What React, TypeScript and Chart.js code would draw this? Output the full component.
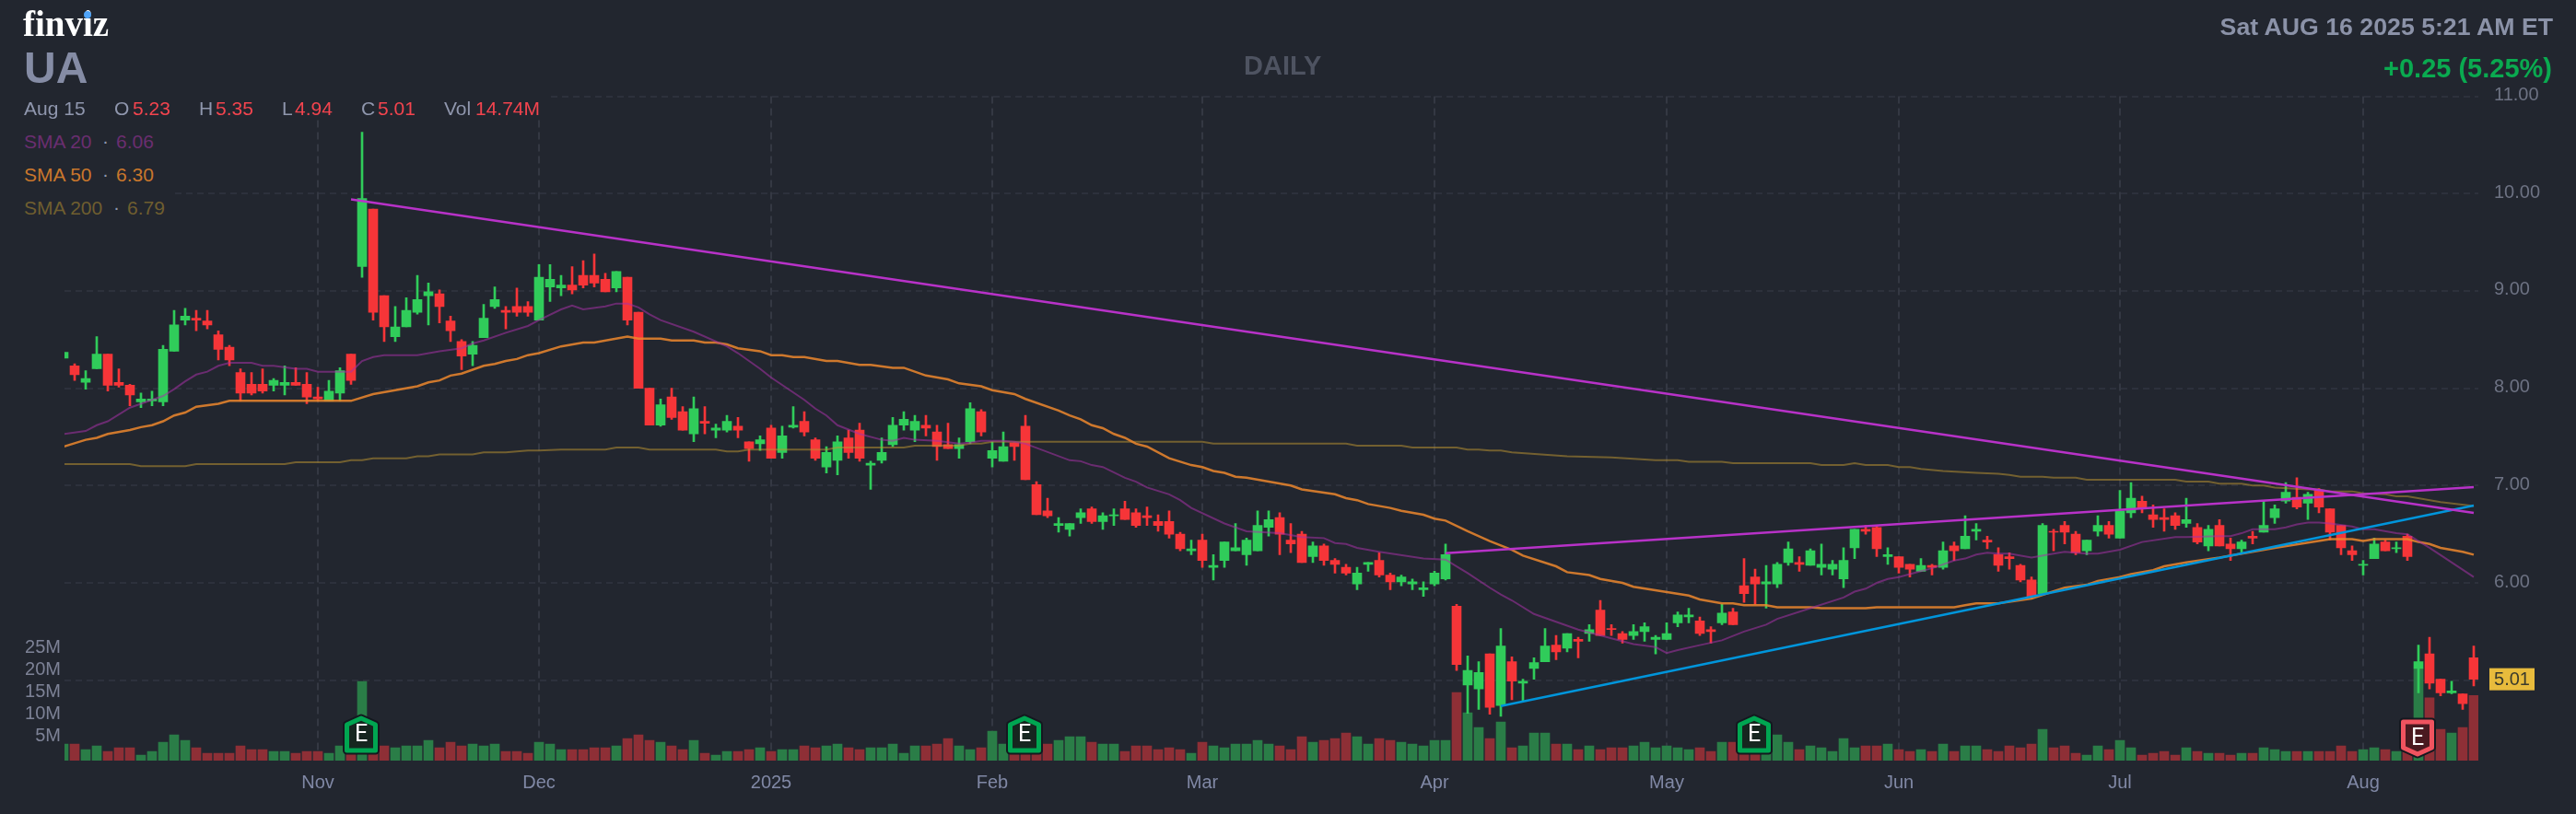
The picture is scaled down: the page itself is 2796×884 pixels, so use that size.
import { useEffect, useRef } from 'react';
import { Chart, registerables } from 'chart.js';

Chart.register(...registerables);

const opens = [
  8.31,8.23,8.06,8.20,8.35,8.06,8.03,7.86,7.87,7.86,
  8.38,8.70,8.72,8.69,8.55,8.42,8.16,8.04,8.04,8.03,
  8.03,8.06,8.04,7.91,7.87,7.95,8.35,9.25,9.84,8.95,
  8.53,8.63,8.78,8.95,8.97,8.69,8.48,8.35,8.52,8.84,
  8.80,8.84,8.84,8.70,9.04,9.03,9.06,9.16,9.16,9.12,
  9.03,9.14,8.78,8.00,7.62,7.91,7.76,7.53,7.66,7.57,
  7.57,7.61,7.45,7.43,7.59,7.34,7.60,7.66,7.47,7.19,
  7.26,7.49,7.57,7.21,7.26,7.42,7.62,7.57,7.62,7.55,
  7.42,7.38,7.45,7.76,7.28,7.25,7.44,7.61,7.01,6.74,
  6.59,6.55,6.67,6.76,6.63,6.69,6.76,6.72,6.69,6.63,
  6.63,6.50,6.33,6.44,6.16,6.23,6.33,6.29,6.33,6.57,
  6.67,6.44,6.50,6.27,6.38,6.23,6.16,5.99,6.19,6.23,
  6.08,6.01,5.99,5.93,5.99,6.04,5.76,4.95,4.91,5.27,
  4.74,5.19,4.97,5.12,5.19,5.36,5.33,5.42,5.48,5.72,
  5.53,5.48,5.46,5.50,5.42,5.42,5.59,5.65,5.61,5.52,
  5.59,5.70,5.97,6.06,5.99,5.99,6.21,6.21,6.18,6.16,
  6.14,6.04,6.36,6.55,6.57,6.27,6.27,6.19,6.12,6.18,
  6.16,6.38,6.35,6.53,6.44,6.29,6.27,6.18,6.03,5.89,
  6.53,6.59,6.50,6.33,6.53,6.59,6.46,6.72,6.84,6.70,
  6.67,6.69,6.61,6.57,6.38,6.59,6.40,6.35,6.48,6.52,
  6.67,6.84,6.88,6.82,6.95,6.76,6.59,6.33,6.18,6.25,
  6.42,6.35,6.48,5.12,5.27,5.01,4.87,4.86,5.23,
];
const highs = [
  8.37,8.25,8.18,8.53,8.35,8.20,8.04,7.95,7.97,8.44,
  8.80,8.82,8.80,8.80,8.59,8.44,8.20,8.16,8.20,8.10,
  8.23,8.21,8.16,8.01,8.08,8.21,8.35,10.63,9.84,8.95,
  8.84,8.93,9.16,9.08,9.01,8.74,8.50,8.48,8.86,9.04,
  8.84,9.03,8.89,9.27,9.27,9.16,9.25,9.31,9.38,9.18,
  9.20,9.14,8.78,8.00,7.89,8.00,7.81,7.91,7.81,7.63,
  7.72,7.70,7.45,7.51,7.62,7.61,7.81,7.76,7.49,7.40,
  7.51,7.57,7.64,7.25,7.49,7.70,7.76,7.72,7.72,7.62,
  7.64,7.49,7.85,7.78,7.45,7.55,7.44,7.72,7.04,6.87,
  6.67,6.61,6.76,6.78,6.72,6.76,6.84,6.76,6.78,6.70,
  6.74,6.52,6.44,6.50,6.29,6.42,6.61,6.46,6.74,6.74,
  6.72,6.61,6.53,6.42,6.40,6.25,6.19,6.16,6.21,6.31,
  6.10,6.08,6.04,6.01,6.12,6.40,5.78,5.25,5.19,5.27,
  5.53,5.24,5.01,5.23,5.53,5.46,5.48,5.44,5.57,5.82,
  5.57,5.50,5.57,5.59,5.46,5.59,5.70,5.74,5.65,5.55,
  5.78,5.74,6.25,6.14,6.18,6.21,6.42,6.27,6.35,6.40,
  6.23,6.36,6.55,6.59,6.59,6.36,6.27,6.19,6.25,6.19,
  6.42,6.42,6.69,6.61,6.48,6.36,6.31,6.19,6.06,6.61,
  6.55,6.63,6.53,6.44,6.69,6.63,6.95,7.03,6.89,6.80,
  6.76,6.72,6.87,6.61,6.59,6.65,6.46,6.44,6.53,6.84,
  6.80,7.03,7.08,6.93,6.97,6.76,6.59,6.38,6.23,6.46,
  6.44,6.42,6.50,5.36,5.44,5.01,4.99,4.86,5.35,
];
const lows = [
  8.31,8.08,7.99,8.20,7.97,8.01,7.82,7.80,7.82,7.82,
  8.38,8.65,8.59,8.61,8.29,8.23,7.87,7.93,7.95,7.97,
  7.93,8.03,7.84,7.87,7.87,7.87,8.04,9.14,8.70,8.48,
  8.48,8.63,8.76,8.65,8.67,8.48,8.19,8.23,8.52,8.82,
  8.61,8.74,8.74,8.70,8.89,8.95,8.97,9.03,9.04,8.99,
  8.99,8.65,8.00,7.62,7.61,7.68,7.57,7.45,7.53,7.49,
  7.55,7.49,7.25,7.36,7.28,7.28,7.59,7.51,7.26,7.13,
  7.11,7.28,7.25,6.96,7.23,7.40,7.57,7.45,7.51,7.26,
  7.38,7.28,7.43,7.51,7.19,7.25,7.26,7.06,6.70,6.67,
  6.52,6.48,6.61,6.61,6.55,6.59,6.65,6.57,6.59,6.53,
  6.46,6.33,6.29,6.16,6.03,6.16,6.33,6.18,6.33,6.48,
  6.29,6.31,6.21,6.21,6.18,6.10,6.08,5.93,6.12,6.06,
  5.93,5.97,5.93,5.86,5.97,6.03,5.10,4.66,4.70,4.65,
  4.63,4.80,4.79,5.01,5.19,5.21,5.29,5.23,5.40,5.46,
  5.46,5.38,5.42,5.40,5.27,5.42,5.55,5.59,5.46,5.38,
  5.57,5.57,5.80,5.78,5.74,5.95,6.18,6.12,6.18,6.08,
  6.08,5.95,6.25,6.50,6.27,6.19,6.10,6.06,6.12,6.08,
  6.14,6.23,6.35,6.44,6.35,6.12,6.14,6.01,5.84,5.89,
  6.33,6.40,6.29,6.29,6.48,6.46,6.46,6.67,6.72,6.57,
  6.53,6.55,6.57,6.40,6.33,6.38,6.23,6.31,6.40,6.52,
  6.61,6.82,6.76,6.65,6.72,6.44,6.29,6.23,6.08,6.25,
  6.33,6.31,6.23,4.87,4.91,4.84,4.86,4.70,4.94,
];
const closes = [
  8.37,8.14,8.10,8.35,8.03,8.03,7.93,7.89,7.89,8.40,
  8.65,8.74,8.70,8.65,8.40,8.29,7.95,7.95,7.97,8.08,
  8.06,8.03,7.91,7.89,7.97,8.18,8.08,9.95,8.78,8.63,
  8.63,8.80,8.91,8.99,8.84,8.59,8.33,8.44,8.72,8.91,
  8.78,8.78,8.78,9.14,9.12,9.06,9.01,9.06,9.08,8.99,
  9.20,8.70,8.00,7.62,7.83,7.70,7.57,7.79,7.64,7.59,
  7.66,7.57,7.38,7.47,7.28,7.51,7.62,7.55,7.28,7.34,
  7.45,7.34,7.28,7.23,7.34,7.62,7.68,7.66,7.59,7.40,
  7.38,7.42,7.79,7.55,7.36,7.40,7.40,7.06,6.70,6.69,
  6.61,6.61,6.72,6.63,6.69,6.70,6.65,6.59,6.67,6.59,
  6.50,6.35,6.35,6.23,6.18,6.42,6.36,6.44,6.59,6.65,
  6.50,6.40,6.21,6.38,6.23,6.19,6.10,6.10,6.21,6.08,
  6.01,6.06,6.01,5.95,6.10,6.29,5.16,5.10,5.08,4.72,
  5.35,4.99,4.99,5.18,5.35,5.29,5.48,5.40,5.52,5.46,
  5.52,5.42,5.50,5.55,5.44,5.48,5.67,5.67,5.48,5.50,
  5.69,5.57,5.89,5.99,6.01,6.19,6.35,6.19,6.33,6.19,
  6.19,6.23,6.55,6.53,6.35,6.29,6.16,6.14,6.18,6.16,
  6.33,6.33,6.48,6.55,6.42,6.18,6.25,6.03,5.86,6.59,
  6.52,6.52,6.31,6.44,6.59,6.50,6.74,6.87,6.76,6.65,
  6.65,6.59,6.65,6.42,6.55,6.38,6.35,6.42,6.46,6.59,
  6.76,6.93,6.78,6.91,6.78,6.52,6.36,6.29,6.19,6.40,
  6.33,6.36,6.27,5.19,4.97,4.87,4.89,4.76,5.01,
];
// millions of shares
const volumes = [
  3.75,3.75,2.5,3.33,2.08,2.92,2.92,1.25,2.08,4.17,
  5.83,4.58,2.92,1.67,1.67,1.67,3.33,2.5,2.5,2.08,
  2.08,1.67,2.08,2.08,1.67,3.33,3.0,17.9,6.5,3.33,
  2.92,3.33,3.33,4.58,2.92,4.17,3.33,3.75,3.33,3.75,
  2.08,2.08,1.67,4.17,3.75,2.5,2.5,2.5,2.92,2.92,
  3.33,5.0,5.83,4.58,4.17,3.33,2.5,4.58,1.67,1.25,
  2.08,2.08,2.5,2.92,2.08,2.5,2.5,3.33,2.92,3.33,
  3.75,2.92,2.5,2.92,2.92,3.75,1.67,3.33,3.33,3.75,
  5.0,3.33,2.5,2.92,6.67,3.75,3.3,4.0,3.5,3.75,
  4.58,5.42,5.42,4.17,3.75,3.75,2.08,3.33,3.33,2.5,
  2.92,2.5,1.67,4.17,3.33,2.92,3.75,3.75,4.58,3.75,
  3.33,2.5,5.42,4.17,4.58,5.0,6.25,5.42,3.75,5.0,
  4.58,4.17,3.75,3.33,4.58,4.58,15.4,10.8,7.5,5.0,
  8.75,2.92,3.33,6.25,6.25,3.75,3.75,2.5,3.33,2.5,
  2.92,2.92,3.33,4.17,2.92,3.33,2.92,2.5,2.92,2.08,
  4.17,4.17,3.3,3.3,3.3,5.83,4.17,2.5,3.33,2.92,
  2.08,5.0,2.92,3.33,3.33,3.75,2.5,2.08,2.5,2.08,
  3.75,2.08,3.33,3.33,2.5,2.08,3.33,2.92,3.75,7.08,
  2.92,3.33,1.67,1.25,3.33,2.5,4.58,2.92,1.25,1.67,
  2.08,1.25,2.92,2.08,1.67,1.67,1.25,1.67,1.67,2.92,
  2.5,2.08,2.08,2.08,2.08,2.08,3.33,2.08,2.5,2.92,
  2.5,2.08,2.0,20.8,14.2,7.08,6.25,7.5,14.74,
];

const sma20Bars = [0,2,3,4,6,8,9,10,11,12,13,14,15,17,18,19,21,22,23,25,26,27,28,29,32,34,36,37,38,40,42,43,45,46,47,49,50,51,52,53,54,57,60,61,63,64,67,68,69,70,72,74,75,76,77,79,81,82,83,85,86,87,91,92,93,94,96,97,98,100,101,102,105,107,110,112,114,115,116,117,119,123,125,126,127,129,130,131,133,137,139,140,142,144,145,146,148,150,152,154,155,158,161,162,163,164,165,166,168,169,171,172,173,174,175,176,178,180,181,183,184,186,188,191,192,195,196,197,198,200,201,202,203,204,205,207,208,209,211,212,213,214,218];
const sma20 = [7.53,7.56,7.62,7.66,7.80,7.88,7.92,7.99,8.07,8.14,8.17,8.23,8.26,8.26,8.23,8.23,8.20,8.20,8.17,8.17,8.17,8.28,8.32,8.34,8.34,8.38,8.41,8.46,8.49,8.57,8.64,8.70,8.81,8.85,8.81,8.84,8.87,8.87,8.83,8.76,8.70,8.58,8.43,8.36,8.20,8.11,7.88,7.79,7.72,7.62,7.53,7.47,7.46,7.49,7.47,7.46,7.43,7.44,7.46,7.46,7.45,7.43,7.26,7.25,7.21,7.19,7.08,7.04,6.98,6.91,6.85,6.77,6.61,6.53,6.51,6.47,6.46,6.41,6.40,6.36,6.32,6.25,6.24,6.17,6.10,5.95,5.88,5.82,5.68,5.52,5.46,5.43,5.37,5.34,5.28,5.31,5.36,5.41,5.50,5.57,5.63,5.74,5.85,5.91,5.94,6.00,6.04,6.06,6.12,6.15,6.23,6.25,6.29,6.31,6.30,6.30,6.26,6.30,6.32,6.30,6.30,6.34,6.42,6.47,6.47,6.48,6.48,6.51,6.55,6.55,6.57,6.60,6.62,6.62,6.61,6.58,6.55,6.55,6.51,6.50,6.43,6.36,6.06];

const sma50Bars = [0,2,3,4,6,7,8,9,10,11,12,14,15,26,28,32,33,34,35,36,38,39,40,41,42,43,45,47,48,51,52,54,55,57,58,59,60,61,63,64,65,66,67,69,70,72,73,75,76,78,80,81,83,84,86,87,90,91,92,93,94,95,96,97,98,100,102,103,104,105,106,107,111,112,115,116,117,118,120,121,123,124,125,127,129,131,132,135,136,138,139,141,142,147,148,150,151,152,154,155,158,159,163,164,171,172,173,175,178,181,183,184,186,187,189,190,192,195,200,205,206,207,208,209,212,213,214,215,217,218];
const sma50 = [7.40,7.47,7.49,7.53,7.57,7.60,7.62,7.66,7.72,7.75,7.81,7.84,7.87,7.87,7.94,8.02,8.06,8.08,8.13,8.15,8.23,8.25,8.28,8.30,8.34,8.36,8.43,8.47,8.47,8.53,8.51,8.51,8.49,8.49,8.47,8.47,8.45,8.41,8.38,8.34,8.34,8.32,8.32,8.28,8.28,8.24,8.24,8.21,8.21,8.13,8.09,8.05,8.02,7.98,7.94,7.89,7.77,7.72,7.68,7.62,7.59,7.53,7.49,7.43,7.40,7.28,7.21,7.19,7.15,7.13,7.09,7.08,7.00,6.96,6.91,6.87,6.85,6.81,6.77,6.74,6.70,6.66,6.64,6.53,6.43,6.34,6.28,6.17,6.11,6.08,6.04,6.00,5.96,5.87,5.83,5.79,5.79,5.77,5.77,5.75,5.75,5.74,5.74,5.75,5.75,5.77,5.79,5.79,5.84,5.95,5.98,6.02,6.06,6.09,6.13,6.17,6.21,6.26,6.36,6.45,6.45,6.45,6.43,6.45,6.45,6.42,6.40,6.36,6.32,6.29];

const sma200Bars = [0,6,7,11,12,20,21,25,26,27,28,31,32,33,34,37,38,40,42,43,45,49,50,52,53,59,60,61,62,69,70,76,77,81,82,83,84,86,89,103,104,116,117,121,122,126,127,128,129,130,131,136,140,144,146,147,150,151,158,159,161,162,163,165,166,167,168,170,173,175,176,177,179,180,182,183,191,192,194,195,197,198,199,200,203,204,205,207,208,210,211,212,215,218];
const sma200 = [7.22,7.22,7.20,7.20,7.22,7.22,7.24,7.24,7.26,7.26,7.28,7.28,7.30,7.30,7.32,7.32,7.34,7.34,7.36,7.36,7.37,7.37,7.39,7.39,7.37,7.37,7.35,7.35,7.37,7.37,7.39,7.39,7.41,7.41,7.43,7.43,7.45,7.45,7.45,7.45,7.43,7.43,7.41,7.41,7.39,7.39,7.37,7.37,7.36,7.36,7.34,7.30,7.29,7.26,7.26,7.245,7.245,7.23,7.23,7.21,7.21,7.23,7.21,7.21,7.19,7.19,7.17,7.15,7.13,7.12,7.11,7.09,7.09,7.08,7.08,7.06,7.06,7.04,7.04,7.02,7.02,7.00,7.00,6.98,6.96,6.96,6.94,6.94,6.92,6.91,6.89,6.89,6.83,6.79];

// trend lines, bar index and price at each end
const falling = { bars: [26, 218], prices: [9.94, 6.72] };
const rising = { bars: [125, 218], prices: [6.305, 6.984] };
const support = { bars: [130, 218], prices: [4.735, 6.795] };

const monthBars = [23, 43, 64, 84, 103, 124, 145, 166, 186, 208];
const monthLabels = ['Nov', 'Dec', '2025', 'Feb', 'Mar', 'Apr', 'May', 'Jun', 'Jul', 'Aug'];
const priceTicks = [5, 6, 7, 8, 9, 10, 11];
const volumeTicks = [5, 10, 15, 20, 25];
const earningsBars = [27, 87, 153];
const earningsMissBars = [213];
const lastClose = 5.01;

const GREEN = '#30cc5a';
const RED = '#f63538';
const VOL_GREEN = '#2a7d47';
const VOL_RED = '#8e2f36';
const BG = '#22262f';

const isUp = (i: number) => closes[i] >= opens[i];
const toPoints = (bars: number[], values: number[]) => bars.map((b, i) => ({ x: b, y: values[i] }));

function drawBadge(ctx: CanvasRenderingContext2D, cx: number, top: number, bottom: number, up: boolean, line: string, fill: string) {
  const hw = 15.5;
  ctx.beginPath();
  if (up) {
    ctx.moveTo(cx, top);
    ctx.lineTo(cx + hw, top + 7);
    ctx.lineTo(cx + hw, bottom);
    ctx.lineTo(cx - hw, bottom);
    ctx.lineTo(cx - hw, top + 7);
  } else {
    ctx.moveTo(cx, bottom);
    ctx.lineTo(cx + hw, bottom - 7);
    ctx.lineTo(cx + hw, top);
    ctx.lineTo(cx - hw, top);
    ctx.lineTo(cx - hw, bottom - 7);
  }
  ctx.closePath();
  ctx.lineJoin = 'round';
  ctx.lineWidth = 9;
  ctx.strokeStyle = '#14181f';
  ctx.stroke();
  ctx.fillStyle = fill;
  ctx.fill();
  ctx.lineWidth = 5;
  ctx.strokeStyle = line;
  ctx.stroke();
  ctx.fillStyle = '#ffffff';
  ctx.font = '400 25px Roboto';
  ctx.textAlign = 'center';
  ctx.textBaseline = 'middle';
  ctx.fillText('E', cx, (top + bottom) / 2 + 1);
}

const overlayPlugin = {
  id: 'overlay',
  afterDatasetsDraw(chart: any) {
    const { ctx, scales, chartArea } = chart;
    ctx.save();
    earningsBars.forEach((b) => {
      const cx = scales.x.getPixelForValue(b) - 1;
      drawBadge(ctx, cx, chartArea.bottom - 46, chartArea.bottom - 11, true, '#00a651', '#16261f');
    });
    earningsMissBars.forEach((b) => {
      const cx = scales.x.getPixelForValue(b) - 1;
      drawBadge(ctx, cx, chartArea.bottom - 42, chartArea.bottom - 7, false, '#f0535f', '#4a1a20');
    });
    // last price tag
    const y = scales.yPrice.getPixelForValue(lastClose);
    ctx.fillStyle = '#e8bb3c';
    ctx.fillRect(chartArea.right + 12, y - 12, 49, 24);
    ctx.fillStyle = '#3a3a2c';
    ctx.font = '20px "Liberation Sans"';
    ctx.textAlign = 'center';
    ctx.textBaseline = 'middle';
    ctx.fillText(lastClose.toFixed(2), chartArea.right + 36.5, y + 1);
    ctx.restore();
  },
};

const font = '"Liberation Sans", Arial, sans-serif';

function Label({ x, y, color, size = 21, weight = 400, right, children }: any) {
  const style: any = {
    position: 'absolute',
    top: y,
    color,
    font: `${weight} ${size}px ${font}`,
    lineHeight: '1',
    transform: 'translateY(-50%)',
    whiteSpace: 'nowrap',
  };
  if (right !== undefined) style.right = right;
  else style.left = x;
  return <div style={style}>{children}</div>;
}

export default function App() {
  const canvasRef = useRef<HTMLCanvasElement>(null);

  useEffect(() => {
    document.body.style.margin = '0';
    document.body.style.background = BG;
    document.body.style.overflow = 'hidden';

    const xs = opens.map((_, i) => i);
    const chart = new Chart(canvasRef.current as HTMLCanvasElement, {
      type: 'bar',
      data: {
        datasets: [
          {
            label: 'Volume',
            data: xs.map((i) => ({ x: i, y: volumes[i] })),
            backgroundColor: xs.map((i) => (isUp(i) ? VOL_GREEN : VOL_RED)),
            yAxisID: 'yVol',
            barThickness: 10,
            grouped: false,
            order: 6,
          },
          {
            label: 'Wick',
            data: xs.map((i) => ({ x: i, y: [lows[i], highs[i]] })),
            backgroundColor: xs.map((i) => (isUp(i) ? GREEN : RED)),
            yAxisID: 'yPrice',
            barThickness: 2,
            grouped: false,
            order: 5,
          },
          {
            label: 'Body',
            data: xs.map((i) => ({ x: i, y: [opens[i], closes[i]] })),
            backgroundColor: xs.map((i) => (isUp(i) ? GREEN : RED)),
            yAxisID: 'yPrice',
            barThickness: 10,
            grouped: false,
            order: 4,
          },
          {
            type: 'line',
            label: 'SMA 200',
            data: toPoints(sma200Bars, sma200),
            borderColor: 'rgba(190,150,50,0.52)',
            borderWidth: 2,
            pointRadius: 0,
            yAxisID: 'yPrice',
            order: 3,
          },
          {
            type: 'line',
            label: 'SMA 50',
            data: toPoints(sma50Bars, sma50),
            borderColor: 'rgba(236,135,45,0.85)',
            borderWidth: 2.5,
            pointRadius: 0,
            yAxisID: 'yPrice',
            order: 2,
          },
          {
            type: 'line',
            label: 'SMA 20',
            data: toPoints(sma20Bars, sma20),
            borderColor: 'rgba(165,50,165,0.55)',
            borderWidth: 2,
            pointRadius: 0,
            yAxisID: 'yPrice',
            order: 1,
          },
          {
            type: 'line',
            label: 'Resistance',
            data: toPoints(falling.bars, falling.prices),
            borderColor: '#b832c8',
            borderWidth: 2.5,
            pointRadius: 0,
            yAxisID: 'yPrice',
            order: 0,
          },
          {
            type: 'line',
            label: 'Upper trend',
            data: toPoints(rising.bars, rising.prices),
            borderColor: '#b832c8',
            borderWidth: 2.5,
            pointRadius: 0,
            yAxisID: 'yPrice',
            order: 0,
          },
          {
            type: 'line',
            label: 'Support',
            data: toPoints(support.bars, support.prices),
            borderColor: '#0095db',
            borderWidth: 2.5,
            pointRadius: 0,
            yAxisID: 'yPrice',
            order: 0,
          },
        ] as any,
      },
      options: {
        responsive: false,
        animation: false,
        devicePixelRatio: 1,
        layout: { padding: { top: 104.5 } },
        plugins: { legend: { display: false }, tooltip: { enabled: false } },
        scales: {
          x: {
            type: 'linear',
            offset: false,
            // 12px per trading day, first bar half clipped by the plot edge
            min: 1 / 12,
            max: 1 / 12 + 2620 / 12,
            grid: { color: '#343843', lineWidth: 2, drawTicks: false, offset: false },
            border: { display: false, dash: [8, 5] },
            ticks: {
              autoSkip: false,
              maxRotation: 0,
              padding: 12,
              color: '#8088a5',
              font: { family: font, size: 20 },
              callback: (v: any) => monthLabels[monthBars.indexOf(v)] ?? '',
            },
            afterBuildTicks: (scale: any) => {
              scale.ticks = monthBars.map((value) => ({ value }));
            },
            afterFit: (scale: any) => {
              scale.height = 58;
            },
          },
          yPrice: {
            type: 'linear',
            position: 'right',
            min: 4.174,
            max: 11,
            grid: { color: '#2d313c', lineWidth: 2, drawTicks: false },
            border: { display: false, dash: [7, 5] },
            ticks: {
              autoSkip: false,
              padding: 17,
              labelOffset: -1,
              color: '#6d7283',
              font: { family: font, size: 20 },
              callback: (v: any) => Number(v).toFixed(2),
            },
            afterBuildTicks: (scale: any) => {
              scale.ticks = priceTicks.map((value) => ({ value }));
            },
            afterFit: (scale: any) => {
              scale.width = 106;
            },
          },
          yVol: {
            type: 'linear',
            position: 'left',
            min: 0,
            max: 150.3,
            grid: { display: false, drawTicks: false },
            border: { display: false },
            ticks: {
              autoSkip: false,
              padding: 4,
              labelOffset: -3,
              color: '#7d8296',
              font: { family: font, size: 20 },
              callback: (v: any) => `${v}M`,
            },
            afterBuildTicks: (scale: any) => {
              scale.ticks = volumeTicks.map((value) => ({ value }));
            },
            afterFit: (scale: any) => {
              scale.width = 70;
            },
          },
        },
      } as any,
      plugins: [overlayPlugin],
    });

    return () => chart.destroy();
  }, []);

  const gray = '#8f96ad';
  const red = '#f3444e';

  return (
    <div style={{ position: 'relative', width: 2796, height: 884, background: BG, overflow: 'hidden' }}>
      <canvas ref={canvasRef} width={2796} height={884} style={{ display: 'block' }} />

      {/* the legend blocks sit on the grid and hide it */}
      <div style={{ position: 'absolute', left: 0, top: 98, width: 598, height: 32, background: BG }} />
      <div style={{ position: 'absolute', left: 0, top: 130, width: 190, height: 110, background: BG }} />

      <div style={{ position: 'absolute', left: 25, top: 6, color: '#fff', font: 'bold 39px "Liberation Serif"', lineHeight: '1' }}>finviz</div>
      <div style={{ position: 'absolute', left: 91, top: 12, width: 8, height: 8, borderRadius: 4, background: '#4fa3f7' }} />
      <Label x={26} y={74} color="#858ca5" size={48} weight={700}>UA</Label>
      <Label y={71} x={1350} color="#4e5361" size={29} weight={700}>DAILY</Label>
      <Label right={25} y={28.5} color="#8b92a8" size={26.7} weight={700}>Sat AUG 16 2025 5:21 AM ET</Label>
      <Label right={26} y={74} color="#0aaa50" size={29} weight={700}>+0.25 (5.25%)</Label>

      <Label x={26} y={117} color={gray}>Aug 15</Label>
      <Label x={124} y={117} color={gray}>O</Label>
      <Label x={144} y={117} color={red}>5.23</Label>
      <Label x={216} y={117} color={gray}>H</Label>
      <Label x={234} y={117} color={red}>5.35</Label>
      <Label x={306} y={117} color={gray}>L</Label>
      <Label x={320} y={117} color={red}>4.94</Label>
      <Label x={392} y={117} color={gray}>C</Label>
      <Label x={410} y={117} color={red}>5.01</Label>
      <Label x={482} y={117} color={gray}>Vol</Label>
      <Label x={516} y={117} color={red}>14.74M</Label>

      <Label x={26} y={153} color="#6a2e70">SMA 20</Label>
      <Label x={111} y={152} color={gray}>·</Label>
      <Label x={126} y={153} color="#6a2e70">6.06</Label>
      <Label x={26} y={189} color="#c9772c">SMA 50</Label>
      <Label x={111} y={188} color={gray}>·</Label>
      <Label x={126} y={189} color="#c9772c">6.30</Label>
      <Label x={26} y={225} color="#6f5e2f">SMA 200</Label>
      <Label x={123} y={224} color={gray}>·</Label>
      <Label x={138} y={225} color="#6f5e2f">6.79</Label>
    </div>
  );
}
